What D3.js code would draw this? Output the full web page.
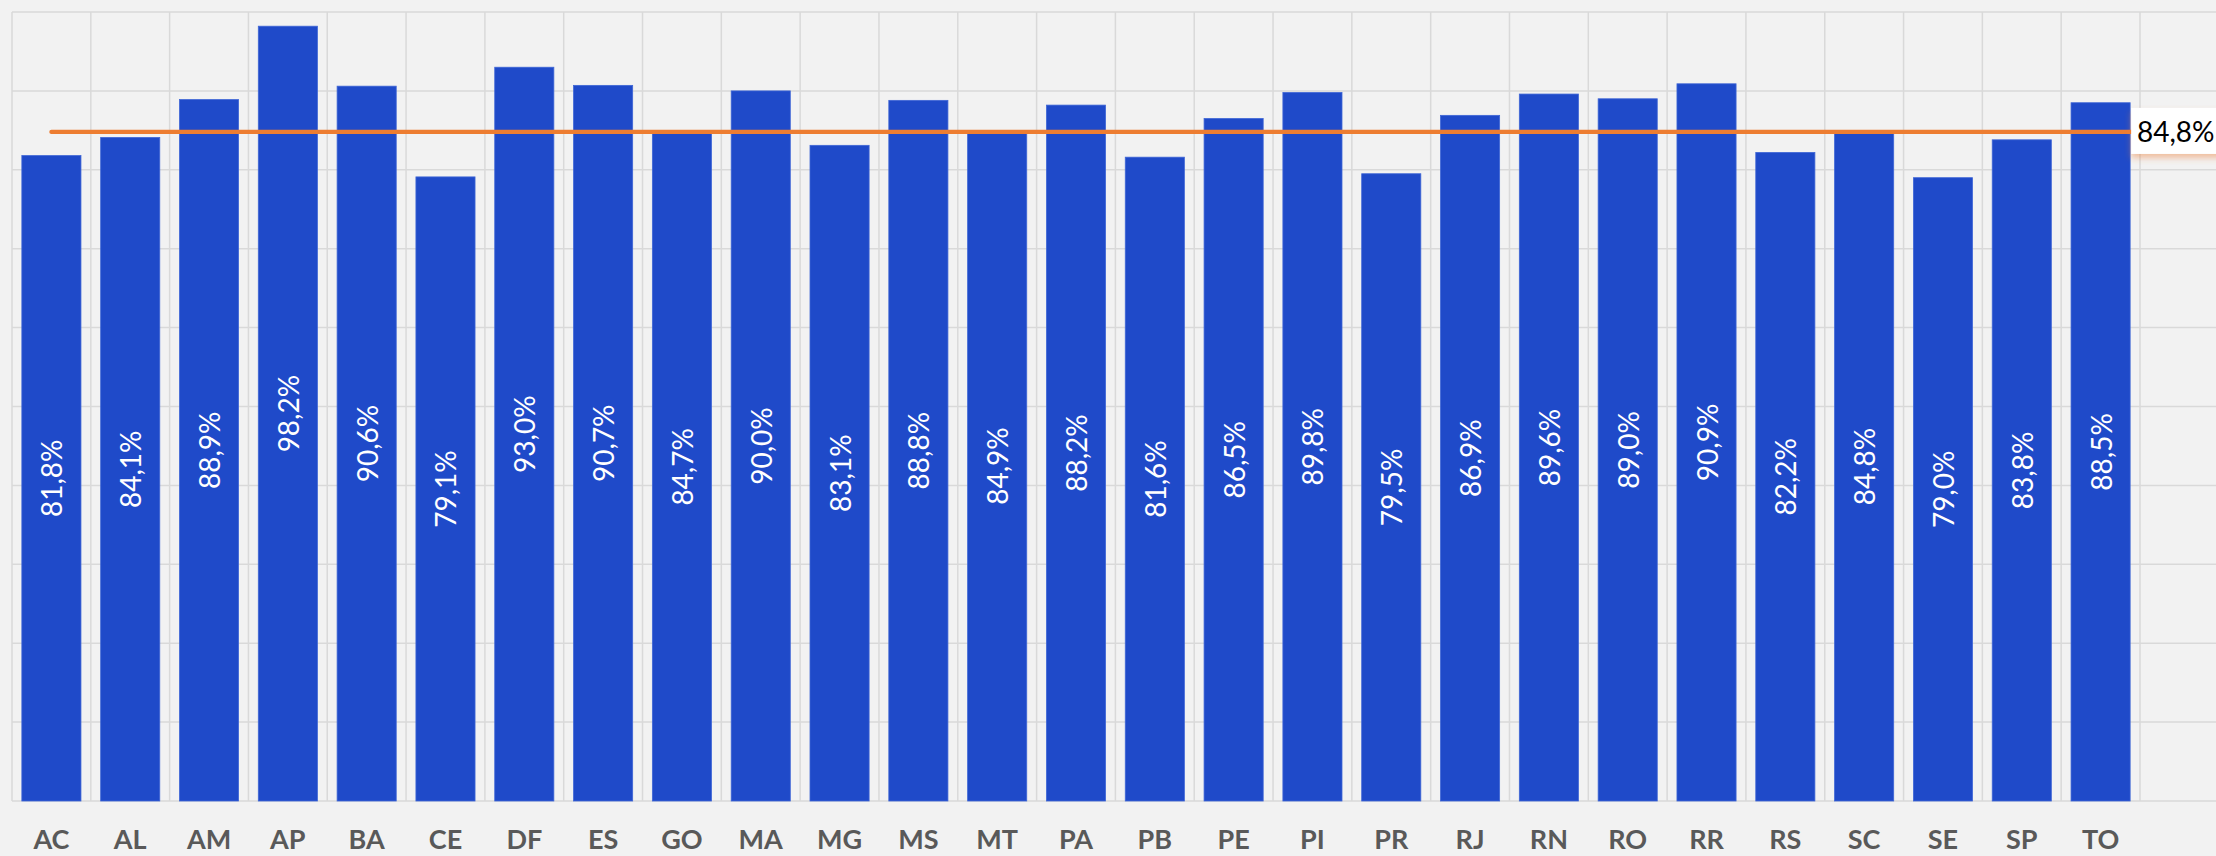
<!DOCTYPE html>
<html>
<head>
<meta charset="utf-8">
<script src="https://cdn.jsdelivr.net/npm/d3@7"></script>
<style>
  html, body { margin: 0; padding: 0; background: #f2f2f2; }
  svg { display: block; }
</style>
</head>
<body>
<script>
// States (UF) and their rates in %
const categories = ["AC","AL","AM","AP","BA","CE","DF","ES","GO","MA","MG","MS","MT","PA","PB","PE","PI","PR","RJ","RN","RO","RR","RS","SC","SE","SP","TO"];
const values = [81.8,84.1,88.9,98.2,90.6,79.1,93.0,90.7,84.7,90.0,83.1,88.8,84.9,88.2,81.6,86.5,89.8,79.5,86.9,89.6,89.0,90.9,82.2,84.8,79.0,83.8,88.5];
const average = 84.8;
const yTicks = [0,10,20,30,40,50,60,70,80,90,100];

const W = 2216, H = 856;
const plot = { left: 12, top: 12, right: 2140, bottom: 801 };
const fmt = v => d3.format(".1f")(v).replace(".", ",") + "%";

const svg = d3.select("body").append("svg")
  .attr("width", W).attr("height", H);

svg.append("rect").attr("width", W).attr("height", H).attr("fill", "#f2f2f2");

const defs = svg.append("defs");
const shadow = defs.append("filter").attr("id", "lblShadow")
  .attr("x", "-20%").attr("y", "-30%").attr("width", "140%").attr("height", "200%");
shadow.append("feDropShadow")
  .attr("dx", 0).attr("dy", 4).attr("stdDeviation", 3)
  .attr("flood-color", "#ed7d31").attr("flood-opacity", 0.45);

const x = d3.scaleBand()
  .domain(categories)
  .range([plot.left, plot.right])
  .paddingInner(0.25)
  .paddingOuter(0.125);

const y = d3.scaleLinear()
  .domain([0, 100])
  .range([plot.bottom, plot.top]);

const step = x.step();
const gridColor = "#d9d9d9";

// Horizontal gridlines
svg.append("g").selectAll("line").data(yTicks).join("line")
  .attr("x1", plot.left).attr("x2", W + 10)
  .attr("y1", d => y(d)).attr("y2", d => y(d))
  .attr("stroke", gridColor).attr("stroke-width", 1.5);

// Vertical gridlines at category boundaries (the grid continues one column past the last state)
const vLines = d3.range(categories.length + 2).map(i => plot.left + i * step);
svg.append("g").selectAll("line").data(vLines).join("line")
  .attr("x1", d => d).attr("x2", d => d)
  .attr("y1", plot.top).attr("y2", plot.bottom)
  .attr("stroke", gridColor).attr("stroke-width", 1.5);

// Bars
svg.append("g").selectAll("rect").data(values).join("rect")
  .attr("x", (d, i) => x(categories[i]))
  .attr("y", d => y(d))
  .attr("width", x.bandwidth())
  .attr("height", d => y(0) - y(d))
  .attr("fill", "#1f4ac9")
  .attr("stroke", "#3f66d6")
  .attr("stroke-width", 0.8);

// Value labels inside bars, rotated
svg.append("g").selectAll("text").data(values).join("text")
  .attr("transform", (d, i) => {
    const cx = x(categories[i]) + x.bandwidth() / 2;
    const cy = (y(d) + y(0)) / 2;
    return `translate(${cx},${cy}) rotate(-90)`;
  })
  .attr("text-anchor", "middle")
  .attr("dominant-baseline", "central")
  .attr("font-family", "Lato, 'Open Sans', sans-serif")
  .attr("font-size", 28)
  .attr("fill", "#ffffff")
  .text(d => fmt(d));

// Category axis labels
svg.append("g").selectAll("text").data(categories).join("text")
  .attr("x", d => x(d) + x.bandwidth() / 2)
  .attr("y", 849)
  .attr("text-anchor", "middle")
  .attr("font-family", "Lato, 'Open Sans', sans-serif")
  .attr("font-weight", "bold")
  .attr("font-size", 27)
  .attr("fill", "#595959")
  .text(d => d);

// Average line across all states
const xStart = x(categories[0]) + x.bandwidth() / 2;
const xEnd = plot.right + step / 2;
svg.append("line")
  .attr("x1", xStart).attr("x2", xEnd)
  .attr("y1", y(average)).attr("y2", y(average))
  .attr("stroke", "#ed7d31").attr("stroke-width", 4.3)
  .attr("stroke-linecap", "round");

// Average label box
const boxX = x(categories[categories.length - 1]) + x.bandwidth() + 1;
svg.append("rect")
  .attr("x", boxX).attr("y", y(average) - 24)
  .attr("width", 120).attr("height", 46)
  .attr("fill", "#ffffff")
  .attr("filter", "url(#lblShadow)");

svg.append("text")
  .attr("x", plot.right - 3)
  .attr("y", y(average) + 10.5)
  .attr("font-family", "Lato, 'Open Sans', sans-serif")
  .attr("font-size", 28)
  .attr("fill", "#000000")
  .text(fmt(average));
</script>
</body>
</html>
